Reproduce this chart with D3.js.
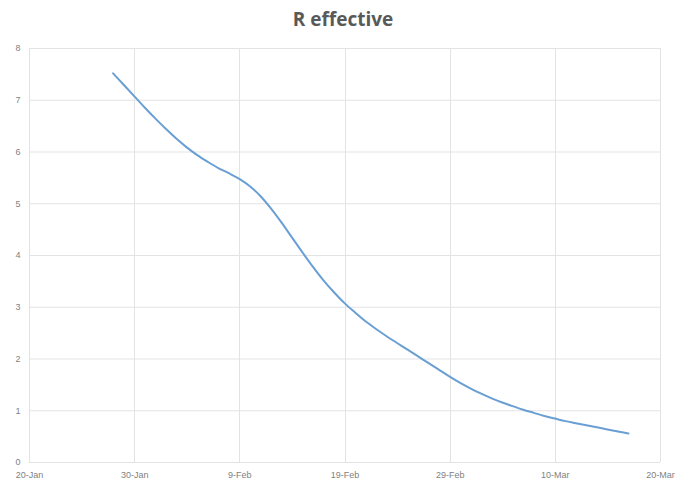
<!DOCTYPE html>
<html>
<head>
<meta charset="utf-8">
<script src="https://cdn.jsdelivr.net/npm/d3@7"></script>
<style>
html,body{margin:0;padding:0;background:#fff;}
svg{display:block;font-family:"Open Sans","Liberation Sans",sans-serif;}
</style>
</head>
<body>
<svg id="chart" width="681" height="488"></svg>
<script>
const title = "R effective";
const startDate = "2020-01-28";
const rValues = [7.51,7.29,7.07,6.85,6.64,6.44,6.25,6.08,5.93,5.80,5.68,5.58,5.47,5.33,5.14,4.90,4.63,4.34,4.05,3.77,3.51,3.28,3.07,2.89,2.72,2.57,2.43,2.30,2.17,2.04,1.91,1.78,1.65,1.53,1.42,1.32,1.23,1.15,1.08,1.01,0.95,0.89,0.84,0.79,0.75,0.71,0.67,0.63,0.59,0.55];
const xTicks = ["2020-01-20","2020-01-30","2020-02-09","2020-02-19","2020-02-29","2020-03-10","2020-03-20"];
const yTicks = [0,1,2,3,4,5,6,7,8];

const parse = d3.utcParse("%Y-%m-%d");
const fmt = d3.utcFormat("%-d-%b");
const t0 = parse(startDate);
const data = rValues.map((v,i)=>({date: d3.utcDay.offset(t0,i), value: v}));
const xTickDates = xTicks.map(parse);

const svg = d3.select("#chart");
const m = {left:29, right:21, top:48, bottom:26};
const W = 681, H = 488;
const x = d3.scaleUtc().domain([xTickDates[0], xTickDates[xTickDates.length-1]]).range([m.left, W-m.right]);
const y = d3.scaleLinear().domain([0,8]).range([H-m.bottom, m.top]);

// horizontal gridlines
svg.append("g").selectAll("line").data(yTicks).join("line")
  .attr("x1", x.range()[0]).attr("x2", x.range()[1])
  .attr("y1", d=>y(d)+0.5).attr("y2", d=>y(d)+0.5)
  .attr("stroke", "#e3e3e3").attr("stroke-width",1);
// vertical gridlines
svg.append("g").selectAll("line").data(xTickDates).join("line")
  .attr("x1", d=>Math.round(x(d))+0.5).attr("x2", d=>Math.round(x(d))+0.5)
  .attr("y1", y(8)).attr("y2", y(0))
  .attr("stroke", "#e3e3e3").attr("stroke-width",1);

// axes labels
const yAxis = d3.axisLeft(y).tickValues(yTicks).tickSize(0).tickPadding(0).tickFormat(d3.format("d"));
const gy = svg.append("g").attr("transform",`translate(${m.left-11},0)`).call(yAxis);
gy.select(".domain").remove();
gy.selectAll("text").attr("fill","#7f7f7f").style("font-size","9px").attr("text-anchor","middle").attr("dy","0.32em");

const xAxis = d3.axisBottom(x).tickValues(xTickDates).tickSize(0).tickPadding(0).tickFormat(fmt);
const gx = svg.append("g").attr("transform",`translate(0,${y(0)+10})`).call(xAxis);
gx.select(".domain").remove();
gx.selectAll("text").attr("fill","#7f7f7f").style("font-size","9px").attr("dy","0.71em");

// line
const line = d3.line().x(d=>x(d.date)).y(d=>y(d.value)).curve(d3.curveCatmullRom.alpha(0.5));
svg.append("path").datum(data).attr("d", line)
  .attr("fill","none").attr("stroke","#6a9fd4").attr("stroke-width",2).attr("stroke-linecap","round");

// title
svg.append("text").attr("x", 343).attr("y", 26).attr("text-anchor","middle")
  .attr("fill","#595959").style("font-size","19px").style("font-weight","bold").text(title);
</script>
</body>
</html>
